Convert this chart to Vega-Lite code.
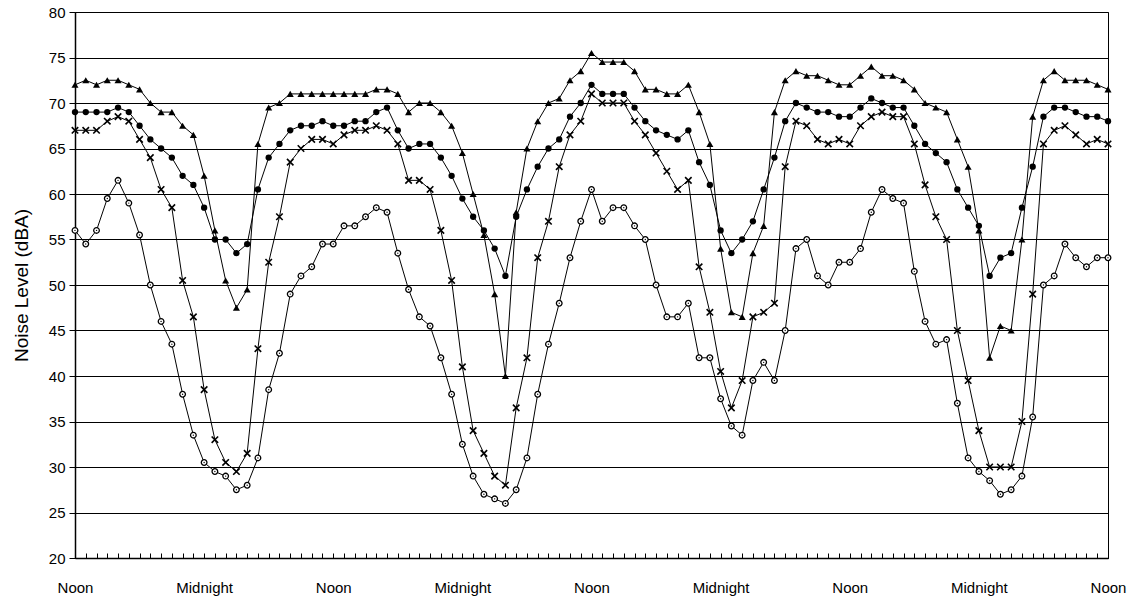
{
  "$schema": "https://vega.github.io/schema/vega-lite/v6.json",
  "width": 1033,
  "height": 546,
  "autosize": {"type": "none"},
  "padding": {"left": 75, "top": 12, "right": 30, "bottom": 42},
  "background": "white",
  "config": {
    "view": {"stroke": "black", "strokeWidth": 1},
    "font": "Liberation Sans",
    "axis": {"labelColor": "black", "titleColor": "black", "domainColor": "black", "tickColor": "black", "labelFont": "Liberation Sans", "titleFont": "Liberation Sans"}
  },
  "data": {"values": [
    {"h":0,"T":72,"D":69,"X":67,"C":56},
    {"h":1,"T":72.5,"D":69,"X":67,"C":54.5},
    {"h":2,"T":72,"D":69,"X":67,"C":56},
    {"h":3,"T":72.5,"D":69,"X":68,"C":59.5},
    {"h":4,"T":72.5,"D":69.5,"X":68.5,"C":61.5},
    {"h":5,"T":72,"D":69,"X":68,"C":59},
    {"h":6,"T":71.5,"D":67.5,"X":66,"C":55.5},
    {"h":7,"T":70,"D":66,"X":64,"C":50},
    {"h":8,"T":69,"D":65,"X":60.5,"C":46},
    {"h":9,"T":69,"D":64,"X":58.5,"C":43.5},
    {"h":10,"T":67.5,"D":62,"X":50.5,"C":38},
    {"h":11,"T":66.5,"D":61,"X":46.5,"C":33.5},
    {"h":12,"T":62,"D":58.5,"X":38.5,"C":30.5},
    {"h":13,"T":56,"D":55,"X":33,"C":29.5},
    {"h":14,"T":50.5,"D":55,"X":30.5,"C":29},
    {"h":15,"T":47.5,"D":53.5,"X":29.5,"C":27.5},
    {"h":16,"T":49.5,"D":54.5,"X":31.5,"C":28},
    {"h":17,"T":65.5,"D":60.5,"X":43,"C":31},
    {"h":18,"T":69.5,"D":64,"X":52.5,"C":38.5},
    {"h":19,"T":70,"D":65.5,"X":57.5,"C":42.5},
    {"h":20,"T":71,"D":67,"X":63.5,"C":49},
    {"h":21,"T":71,"D":67.5,"X":65,"C":51},
    {"h":22,"T":71,"D":67.5,"X":66,"C":52},
    {"h":23,"T":71,"D":68,"X":66,"C":54.5},
    {"h":24,"T":71,"D":67.5,"X":65.5,"C":54.5},
    {"h":25,"T":71,"D":67.5,"X":66.5,"C":56.5},
    {"h":26,"T":71,"D":68,"X":67,"C":56.5},
    {"h":27,"T":71,"D":68,"X":67,"C":57.5},
    {"h":28,"T":71.5,"D":69,"X":67.5,"C":58.5},
    {"h":29,"T":71.5,"D":69.5,"X":67,"C":58},
    {"h":30,"T":71,"D":67,"X":65.5,"C":53.5},
    {"h":31,"T":69,"D":65,"X":61.5,"C":49.5},
    {"h":32,"T":70,"D":65.5,"X":61.5,"C":46.5},
    {"h":33,"T":70,"D":65.5,"X":60.5,"C":45.5},
    {"h":34,"T":69,"D":64,"X":56,"C":42},
    {"h":35,"T":67.5,"D":62,"X":50.5,"C":38},
    {"h":36,"T":64.5,"D":59.5,"X":41,"C":32.5},
    {"h":37,"T":60,"D":57.5,"X":34,"C":29},
    {"h":38,"T":55.5,"D":56,"X":31.5,"C":27},
    {"h":39,"T":49,"D":54,"X":29,"C":26.5},
    {"h":40,"T":40,"D":51,"X":28,"C":26},
    {"h":41,"T":58,"D":57.5,"X":36.5,"C":27.5},
    {"h":42,"T":65,"D":60.5,"X":42,"C":31},
    {"h":43,"T":68,"D":63,"X":53,"C":38},
    {"h":44,"T":70,"D":65,"X":57,"C":43.5},
    {"h":45,"T":70.5,"D":66,"X":63,"C":48},
    {"h":46,"T":72.5,"D":68.5,"X":66.5,"C":53},
    {"h":47,"T":73.5,"D":70,"X":68,"C":57},
    {"h":48,"T":75.5,"D":72,"X":71,"C":60.5},
    {"h":49,"T":74.5,"D":71,"X":70,"C":57},
    {"h":50,"T":74.5,"D":71,"X":70,"C":58.5},
    {"h":51,"T":74.5,"D":71,"X":70,"C":58.5},
    {"h":52,"T":73.5,"D":69.5,"X":68,"C":56.5},
    {"h":53,"T":71.5,"D":68,"X":66.5,"C":55},
    {"h":54,"T":71.5,"D":67,"X":64.5,"C":50},
    {"h":55,"T":71,"D":66.5,"X":62.5,"C":46.5},
    {"h":56,"T":71,"D":66,"X":60.5,"C":46.5},
    {"h":57,"T":72,"D":67,"X":61.5,"C":48},
    {"h":58,"T":69,"D":63.5,"X":52,"C":42},
    {"h":59,"T":65.5,"D":61,"X":47,"C":42},
    {"h":60,"T":54,"D":56,"X":40.5,"C":37.5},
    {"h":61,"T":47,"D":53.5,"X":36.5,"C":34.5},
    {"h":62,"T":46.5,"D":55,"X":39.5,"C":33.5},
    {"h":63,"T":53.5,"D":57,"X":46.5,"C":39.5},
    {"h":64,"T":56.5,"D":60.5,"X":47,"C":41.5},
    {"h":65,"T":69,"D":64,"X":48,"C":39.5},
    {"h":66,"T":72.5,"D":68,"X":63,"C":45},
    {"h":67,"T":73.5,"D":70,"X":68,"C":54},
    {"h":68,"T":73,"D":69.5,"X":67.5,"C":55},
    {"h":69,"T":73,"D":69,"X":66,"C":51},
    {"h":70,"T":72.5,"D":69,"X":65.5,"C":50},
    {"h":71,"T":72,"D":68.5,"X":66,"C":52.5},
    {"h":72,"T":72,"D":68.5,"X":65.5,"C":52.5},
    {"h":73,"T":73,"D":69.5,"X":67.5,"C":54},
    {"h":74,"T":74,"D":70.5,"X":68.5,"C":58},
    {"h":75,"T":73,"D":70,"X":69,"C":60.5},
    {"h":76,"T":73,"D":69.5,"X":68.5,"C":59.5},
    {"h":77,"T":72.5,"D":69.5,"X":68.5,"C":59},
    {"h":78,"T":71.5,"D":67.5,"X":65.5,"C":51.5},
    {"h":79,"T":70,"D":65.5,"X":61,"C":46},
    {"h":80,"T":69.5,"D":64.5,"X":57.5,"C":43.5},
    {"h":81,"T":69,"D":63.5,"X":55,"C":44},
    {"h":82,"T":66,"D":60.5,"X":45,"C":37},
    {"h":83,"T":63,"D":58.5,"X":39.5,"C":31},
    {"h":84,"T":56,"D":56.5,"X":34,"C":29.5},
    {"h":85,"T":42,"D":51,"X":30,"C":28.5},
    {"h":86,"T":45.5,"D":53,"X":30,"C":27},
    {"h":87,"T":45,"D":53.5,"X":30,"C":27.5},
    {"h":88,"T":55,"D":58.5,"X":35,"C":29},
    {"h":89,"T":68.5,"D":63,"X":49,"C":35.5},
    {"h":90,"T":72.5,"D":68.5,"X":65.5,"C":50},
    {"h":91,"T":73.5,"D":69.5,"X":67,"C":51},
    {"h":92,"T":72.5,"D":69.5,"X":67.5,"C":54.5},
    {"h":93,"T":72.5,"D":69,"X":66.5,"C":53},
    {"h":94,"T":72.5,"D":68.5,"X":65.5,"C":52},
    {"h":95,"T":72,"D":68.5,"X":66,"C":53},
    {"h":96,"T":71.5,"D":68,"X":65.5,"C":53}
  ]},
  "transform": [{"fold": ["T", "D", "X", "C"], "as": ["series", "v"]}],
  "encoding": {
    "x": {
      "field": "h", "type": "quantitative",
      "scale": {"domain": [0, 96], "nice": false, "zero": false},
      "axis": {
        "title": null, "grid": false,
        "values": [0,1,2,3,4,5,6,7,8,9,10,11,12,13,14,15,16,17,18,19,20,21,22,23,24,25,26,27,28,29,30,31,32,33,34,35,36,37,38,39,40,41,42,43,44,45,46,47,48,49,50,51,52,53,54,55,56,57,58,59,60,61,62,63,64,65,66,67,68,69,70,71,72,73,74,75,76,77,78,79,80,81,82,83,84,85,86,87,88,89,90,91,92,93,94,95,96],
        "labelExpr": "datum.value % 24 == 0 ? 'Noon' : (datum.value % 12 == 0 ? 'Midnight' : '')",
        "tickSize": -5, "tickWidth": 1,
        "labelPadding": 27, "labelFontSize": 15, "labelOverlap": false, "labelFlush": false,
        "domainWidth": 1.5
      }
    },
    "y": {
      "field": "v", "type": "quantitative",
      "scale": {"domain": [20, 80], "nice": false, "zero": false},
      "axis": {
        "title": "Noise Level (dBA)", "titleFontSize": 19, "titleFontWeight": "normal", "titlePadding": 17,
        "values": [20,25,30,35,40,45,50,55,60,65,70,75,80],
        "grid": true, "gridColor": "black", "gridWidth": 1,
        "tickSize": 6, "labelPadding": 4, "labelFontSize": 15,
        "domainWidth": 1.5
      }
    }
  },
  "layer": [
    {"mark": {"type": "line", "color": "black", "strokeWidth": 1}, "encoding": {"detail": {"field": "series"}}},
    {"transform": [{"filter": "datum.series === 'T'"}], "mark": {"type": "point", "shape": "triangle-up", "filled": true, "color": "black", "opacity": 1, "size": 50}},
    {"transform": [{"filter": "datum.series === 'D'"}], "mark": {"type": "point", "shape": "circle", "filled": true, "color": "black", "opacity": 1, "size": 40}},
    {"transform": [{"filter": "datum.series === 'X'"}], "mark": {"type": "point", "shape": "M-1,-1L1,1M-1,1L1,-1", "filled": false, "color": "black", "opacity": 1, "strokeWidth": 1.6, "size": 42}},
    {"transform": [{"filter": "datum.series === 'C'"}], "mark": {"type": "point", "shape": "circle", "filled": true, "fill": "white", "stroke": "black", "strokeWidth": 1.3, "opacity": 1, "size": 32}},
    {"transform": [{"filter": "datum.series === 'C'"}], "mark": {"type": "point", "shape": "circle", "filled": true, "color": "black", "opacity": 1, "size": 2}}
  ]
}
